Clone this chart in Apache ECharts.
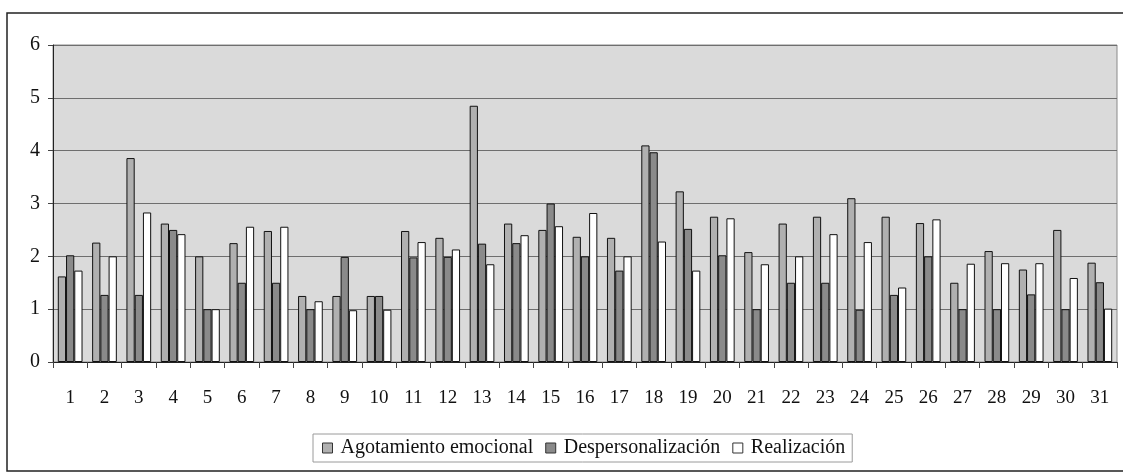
<!DOCTYPE html>
<html>
<head>
<meta charset="utf-8">
<script src="https://cdn.jsdelivr.net/npm/echarts@6/dist/echarts.min.js"></script>
<style>
html,body{margin:0;padding:0;background:#fff;}
#c{width:1123px;height:475px;}
</style>
</head>
<body>
<div id="c"></div>
<script>
const categories = ['1','2','3','4','5','6','7','8','9','10','11','12','13','14','15','16','17','18','19','20','21','22','23','24','25','26','27','28','29','30','31'];
const agotamiento = [1.62,2.26,3.86,2.62,2.0,2.25,2.48,1.25,1.25,1.25,2.48,2.35,4.85,2.62,2.5,2.37,2.35,4.1,3.23,2.75,2.08,2.62,2.75,3.1,2.75,2.63,1.5,2.1,1.75,2.5,1.88];
const despersonalizacion = [2.02,1.27,1.27,2.5,1.0,1.5,1.5,1.0,1.99,1.25,1.98,1.99,2.24,2.25,3.0,2.0,1.73,3.97,2.52,2.02,1.0,1.5,1.5,0.99,1.27,2.0,1.0,1.0,1.28,1.0,1.51];
const realizacion = [1.73,2.0,2.83,2.42,1.0,2.56,2.56,1.15,0.98,0.99,2.27,2.13,1.85,2.4,2.57,2.82,2.0,2.28,1.73,2.72,1.85,2.0,2.42,2.27,1.41,2.7,1.86,1.87,1.87,1.59,1.01];
const seriesNames = ['Agotamiento emocional','Despersonalización','Realización'];
const yTicks = [0,1,2,3,4,5,6];

const font = 'Liberation Serif';
const chart = echarts.init(document.getElementById('c'), null, {renderer:'canvas'});
const barStyle = (c) => ({color:c, borderColor:'#111', borderWidth:1});
chart.setOption({
  animation:false,
  backgroundColor:'#fff',
  textStyle:{fontFamily:font},
  graphic:[{
    type:'rect', shape:{x:7, y:13, width:1120, height:458},
    style:{fill:'none', stroke:'#222', lineWidth:1.5}, silent:true, z:-1
  }],
  grid:{left:53, right:6, top:45, bottom:113, show:true, backgroundColor:'#dadada', borderColor:'#8a8a8a', borderWidth:1},
  legend:{
    left:313, top:434,
    data:seriesNames,
    icon:'rect', itemWidth:10, itemHeight:10, itemGap:12,
    padding:[4,7,4,9],
    borderColor:'#9a9a9a', borderWidth:1,
    itemStyle:{borderColor:'#333', borderWidth:1},
    textStyle:{fontFamily:font, fontSize:20, color:'#111', padding:[0,0,0,3]}
  },
  xAxis:{
    type:'category', data:categories,
    axisLine:{lineStyle:{color:'#222', width:1}},
    axisTick:{show:true, length:6, lineStyle:{color:'#444'}},
    axisLabel:{fontFamily:font, fontSize:19, color:'#111', margin:27},
    splitLine:{show:false}
  },
  yAxis:{
    type:'value', min:0, max:6, interval:1,
    axisLine:{show:true, lineStyle:{color:'#222', width:1}},
    axisTick:{show:true, length:5, lineStyle:{color:'#444'}},
    axisLabel:{fontFamily:font, fontSize:20, color:'#111', margin:13,
      formatter:(v)=> yTicks.includes(v) ? String(v) : ''},
    splitLine:{show:true, lineStyle:{color:'#6e6e6e', width:1}}
  },
  series:[
    {name:seriesNames[0], type:'bar', data:agotamiento, barGap:'0%', barCategoryGap:'28%', itemStyle:barStyle('#b0b0b0')},
    {name:seriesNames[1], type:'bar', data:despersonalizacion, barGap:'0%', barCategoryGap:'28%', itemStyle:barStyle('#8a8a8a')},
    {name:seriesNames[2], type:'bar', data:realizacion, barGap:'0%', barCategoryGap:'28%', itemStyle:barStyle('#ffffff')}
  ]
});
</script>
</body>
</html>
